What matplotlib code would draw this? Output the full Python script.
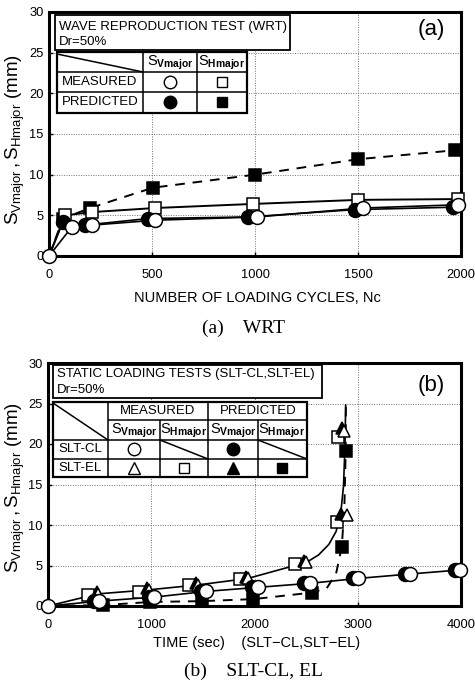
import matplotlib
matplotlib.use("Agg")
import matplotlib.pyplot as plt
from matplotlib.patches import Rectangle

plt.rcParams["font.family"] = ["Liberation Sans", "DejaVu Sans"]
plt.rcParams["mathtext.fontset"] = "custom"
plt.rcParams["mathtext.rm"] = "Liberation Sans"
plt.rcParams["mathtext.it"] = "Liberation Sans"
plt.rcParams["mathtext.bf"] = "Liberation Sans:bold"

# ---- (a) WRT: number of loading cycles vs settlement (mm)
a_sv_meas_n = [0, 112, 209, 515, 1010, 1525, 1987]
a_sv_meas = [0, 3.6, 3.8, 4.4, 4.8, 5.9, 6.3]
a_sv_pred_n = [0, 68, 175, 480, 966, 1485, 1961]
a_sv_pred = [0, 4.2, 3.8, 4.6, 4.8, 5.7, 6.0]
a_sh_meas_n = [0, 78, 209, 515, 990, 1500, 1987]
a_sh_meas = [0, 5.0, 5.4, 5.9, 6.4, 6.9, 7.0]
a_sh_pred_n = [0, 68, 199, 505, 1000, 1500, 1971]
a_sh_pred = [0, 4.6, 5.9, 8.4, 10.0, 11.9, 13.0]

# ---- (b) SLT-CL / SLT-EL: time (sec) vs settlement (mm)
b_cl_sv_meas_t = [0, 495, 1030, 1530, 2030, 2535, 3000, 3505, 3990]
b_cl_sv_meas = [0, 0.6, 1.1, 1.8, 2.3, 2.8, 3.4, 3.95, 4.45]
b_cl_sv_pred_t = [450, 980, 1485, 1980, 2480, 2950, 3455, 3940]
b_cl_sv_pred = [0.6, 1.1, 1.8, 2.3, 2.9, 3.4, 3.9, 4.4]
b_el_sv_meas_t = [485, 980, 1450, 1935, 2500, 2895, 2870]
b_el_sv_meas = [1.5, 2.0, 2.6, 3.4, 5.4, 11.2, 21.6]
b_el_sh_meas_t = [390, 885, 1370, 1855, 2390, 2800, 2810]
b_el_sh_meas = [1.35, 1.7, 2.6, 3.35, 5.2, 10.4, 20.9]
b_el_sv_pred_t = [470, 960, 1430, 1920, 2480, 2840, 2850]
b_el_sv_pred = [1.7, 2.2, 2.8, 3.6, 5.5, 11.4, 22.0]
b_el_sh_pred_t = [530, 990, 1495, 1990, 2553, 2845, 2883]
b_el_sh_pred = [0.1, 0.5, 0.6, 0.85, 1.65, 7.3, 19.1]
# traces of the two EL curves
b_el_curve_t = [0, 485, 980, 1450, 1935, 2505, 2620, 2720, 2790, 2835, 2862, 2876, 2883]
b_el_curve = [0, 1.5, 2.0, 2.6, 3.4, 5.4, 6.3, 7.6, 9.2, 11.4, 14.8, 19.6, 24.8]
b_el_dash_t = [0, 530, 990, 1495, 1990, 2553, 2700, 2790, 2845, 2870, 2883, 2885]
b_el_dash = [0, 0.1, 0.5, 0.6, 0.85, 1.65, 2.2, 4.0, 7.3, 12.0, 19.1, 25.0]

W, H = 475, 690
fig = plt.figure(figsize=(W / 100, H / 100), dpi=100)


def px_axes(l, t, r, b):
    return fig.add_axes([l / W, 1 - b / H, (r - l) / W, (b - t) / H])


def style(ax, xmax, xstep, pad):
    ax.set_xlim(0, xmax)
    ax.set_ylim(0, 30)
    ax.set_xticks(range(0, xmax + 1, xstep))
    ax.set_yticks(range(0, 31, 5))
    ax.grid(True, linestyle=(0, (1, 1.5)), color="0.45", linewidth=0.7)
    ax.tick_params(direction="in", length=3, width=1, labelsize=9.3)
    ax.tick_params(axis="x", pad=pad)
    ax.tick_params(axis="y", pad=4)
    for s in ax.spines.values():
        s.set_linewidth(2.2)


def marks(ax, x, y, m, filled, ms, z):
    ax.plot(x, y, linestyle="none", marker=m, ms=ms, mec="black", mew=1.1,
            mfc="black" if filled else "white", clip_on=False, zorder=z)


ax_a = px_axes(49, 12, 461, 256)
style(ax_a, 2000, 500, 9)
ax_a.plot(a_sv_pred_n, a_sv_pred, color="black", lw=1.2, zorder=3)
ax_a.plot(a_sv_meas_n, a_sv_meas, color="black", lw=1.2, zorder=3)
ax_a.plot(a_sh_meas_n, a_sh_meas, color="black", lw=1.4, zorder=3)
ax_a.plot(a_sh_pred_n, a_sh_pred, color="black", lw=1.4, ls=(0, (5, 4)), zorder=3)
marks(ax_a, a_sh_pred_n[1:], a_sh_pred[1:], "s", True, 8, 4)
marks(ax_a, a_sh_meas_n[1:], a_sh_meas[1:], "s", False, 8, 5)
marks(ax_a, a_sv_pred_n[1:], a_sv_pred[1:], "o", True, 10, 6)
marks(ax_a, a_sv_meas_n, a_sv_meas, "o", False, 10, 7)

ax_b = px_axes(48, 363, 461, 606)
style(ax_b, 4000, 1000, 9)
ax_b.plot(b_cl_sv_meas_t, b_cl_sv_meas, color="black", lw=1.2, zorder=3)
ax_b.plot(b_el_curve_t, b_el_curve, color="black", lw=1.2, zorder=3)
ax_b.plot(b_el_dash_t, b_el_dash, color="black", lw=1.4, ls=(0, (5, 4)), zorder=3)
marks(ax_b, b_el_sh_pred_t, b_el_sh_pred, "s", True, 8, 4)
marks(ax_b, b_el_sh_meas_t, b_el_sh_meas, "s", False, 8, 5)
marks(ax_b, b_el_sv_pred_t, b_el_sv_pred, "^", True, 9, 5)
marks(ax_b, b_el_sv_meas_t, b_el_sv_meas, "^", False, 9, 6)
marks(ax_b, b_cl_sv_pred_t, b_cl_sv_pred, "o", True, 10, 6)
marks(ax_b, b_cl_sv_meas_t, b_cl_sv_meas, "o", False, 10, 7)

# overlay in pixel coordinates for boxes, tables and labels
ov = fig.add_axes([0, 0, 1, 1], zorder=10)
ov.set_xlim(0, W)
ov.set_ylim(H, 0)
ov.axis("off")
ov.patch.set_alpha(0)

sv = r"$\mathrm{S}_{\mathbf{Vmajor}}$"
sh = r"$\mathrm{S}_{\mathbf{Hmajor}}$"


def box(x0, y0, x1, y1, lw=1.3):
    ov.add_patch(Rectangle((x0, y0), x1 - x0, y1 - y0, fc="white", ec="black", lw=lw))


def line(x0, y0, x1, y1, lw=1.1):
    ov.plot([x0, x1], [y0, y1], color="black", lw=lw, solid_capstyle="butt")


def sym(x, y, m, filled, ms):
    ov.plot([x], [y], marker=m, ms=ms, mec="black", mew=1.0,
            mfc="black" if filled else "white")


# (a) boxes
box(55, 15, 290, 50)
ov.text(59, 27, "WAVE REPRODUCTION TEST (WRT)", fontsize=9.5, va="center")
ov.text(59, 42, "Dr=50%", fontsize=9.5, va="center")
box(57, 52, 247, 113, lw=1.6)
for yy in (72, 92):
    line(57, yy, 247, yy)
for xx in (143, 197):
    line(xx, 52, xx, 113)
line(57, 54, 143, 72)
ov.text(170, 63, sv, fontsize=10.5, ha="center", va="center")
ov.text(222, 63, sh, fontsize=10.5, ha="center", va="center")
ov.text(100, 82, "MEASURED", fontsize=9.5, ha="center", va="center")
ov.text(100, 102, "PREDICTED", fontsize=9.5, ha="center", va="center")
sym(170, 82, "o", False, 9)
sym(222, 82, "s", False, 7.5)
sym(170, 102, "o", True, 9)
sym(222, 102, "s", True, 7.5)
ov.text(431, 30, "(a)", fontsize=16, ha="center", va="center")

# (b) boxes
box(53, 365, 322, 398)
ov.text(57, 374, "STATIC LOADING TESTS (SLT-CL,SLT-EL)", fontsize=9.5, va="center")
ov.text(57, 390, "Dr=50%", fontsize=9.5, va="center")
box(53, 402, 307, 477, lw=1.6)
line(108, 402, 108, 477)
line(208, 402, 208, 477)
for xx in (160, 258):
    line(xx, 420, xx, 477)
line(108, 420, 307, 420)
line(53, 440, 307, 440)
line(53, 459, 307, 459)
line(53, 403, 108, 440)
line(160, 440, 208, 459)
line(258, 440, 307, 459)
ov.text(158, 411, "MEASURED", fontsize=9.5, ha="center", va="center")
ov.text(258, 411, "PREDICTED", fontsize=9.5, ha="center", va="center")
for xx, s in ((134, sv), (184, sh), (233, sv), (282, sh)):
    ov.text(xx, 431, s, fontsize=10.5, ha="center", va="center")
ov.text(80, 449, "SLT-CL", fontsize=9.5, ha="center", va="center")
ov.text(80, 468, "SLT-EL", fontsize=9.5, ha="center", va="center")
sym(134, 449, "o", False, 9)
sym(233, 449, "o", True, 9)
sym(134, 468, "^", False, 8.5)
sym(184, 468, "s", False, 7.5)
sym(233, 468, "^", True, 8.5)
sym(282, 468, "s", True, 7.5)
ov.text(431, 385, "(b)", fontsize=16, ha="center", va="center")

# axis labels and captions
ylab = r"$\mathrm{S}_{\mathrm{Vmajor}}\,,\mathrm{S}_{\mathrm{Hmajor}}$ (mm)"
ov.text(15, 140, ylab, fontsize=13.5, rotation=90, ha="center", va="center")
ov.text(15, 488, ylab, fontsize=13.5, rotation=90, ha="center", va="center")
ov.text(257, 298, "NUMBER OF LOADING CYCLES, Nc", fontsize=10.5, ha="center", va="center")
ov.text(257, 643, "TIME (sec)    (SLT\u2212CL,SLT\u2212EL)", fontsize=10.5, ha="center", va="center")
ov.text(244, 328, "(a)    WRT", fontsize=14, family="Liberation Serif", ha="center", va="center")
ov.text(254, 671, "(b)    SLT-CL, EL", fontsize=14, family="Liberation Serif", ha="center", va="center")

fig.savefig("out.png", dpi=100)
